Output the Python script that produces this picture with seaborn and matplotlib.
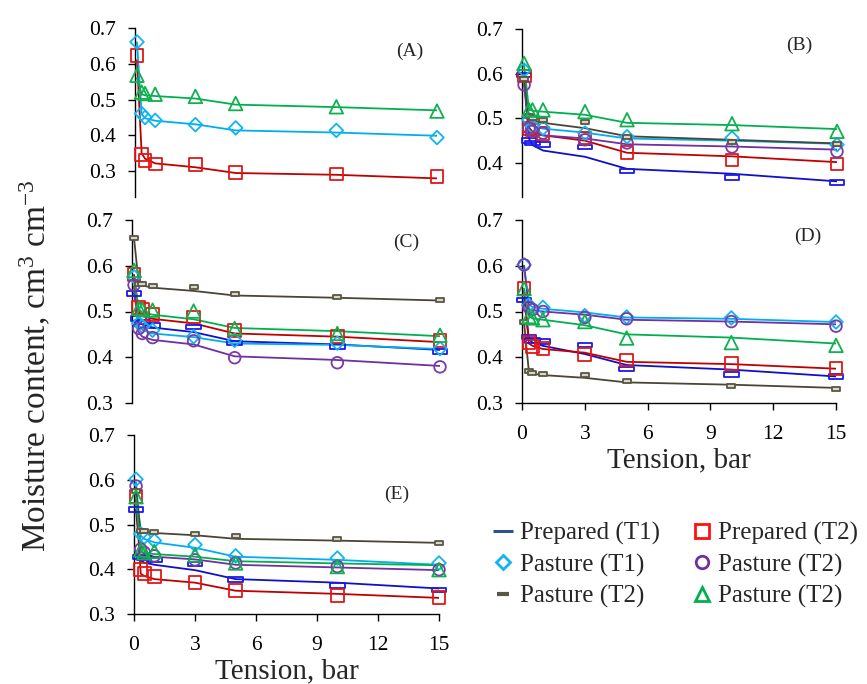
import numpy as np
import pandas as pd
import matplotlib
matplotlib.use("Agg")
import matplotlib.pyplot as plt
from matplotlib.path import Path
from matplotlib.lines import Line2D
import seaborn as sns

# ---------------- data ----------------
tension = [0.1, 0.33, 0.5, 1, 3, 5, 10, 15]

series_names = ["Prepared (T1)", "Prepared (T2)", "Pasture (T1)",
                "Pasture (T2) o", "Pasture (T2) -", "Pasture (T2) ^"]

# measured points (markers) and smoothed curve values (lines), per panel
A_pts = {
    "Prepared (T2)": [0.624, 0.347, 0.329, 0.320, 0.318, 0.296, 0.292, 0.286],
    "Pasture (T1)": [0.661, 0.461, 0.450, 0.442, 0.430, 0.421, 0.414, 0.394],
    "Pasture (T2) ^": [0.568, 0.521, 0.517, 0.515, 0.509, 0.489, 0.480, 0.468],
}
A_line = {
    "Prepared (T2)": [0.610, 0.350, 0.335, 0.322, 0.311, 0.295, 0.290, 0.280],
    "Pasture (T1)": [0.660, 0.460, 0.448, 0.441, 0.431, 0.414, 0.408, 0.399],
    "Pasture (T2) ^": [0.560, 0.515, 0.512, 0.510, 0.503, 0.486, 0.479, 0.470],
}
B_pts = {
    "Prepared (T1)": [0.597, 0.450, 0.445, 0.441, 0.436, 0.382, 0.367, 0.356],
    "Prepared (T2)": [0.595, 0.478, 0.474, 0.467, 0.456, 0.424, 0.407, 0.398],
    "Pasture (T1)": [0.608, 0.497, 0.482, 0.478, 0.467, 0.459, 0.456, 0.441],
    "Pasture (T2) o": [0.575, 0.478, 0.471, 0.467, 0.452, 0.445, 0.436, 0.426],
    "Pasture (T2) -": [0.588, 0.506, 0.500, 0.497, 0.491, 0.459, 0.448, 0.442],
    "Pasture (T2) ^": [0.623, 0.519, 0.519, 0.519, 0.515, 0.497, 0.488, 0.471],
}
B_line = {
    "Prepared (T1)": [0.595, 0.455, 0.440, 0.428, 0.414, 0.387, 0.376, 0.359],
    "Prepared (T2)": [0.590, 0.480, 0.470, 0.462, 0.450, 0.423, 0.415, 0.402],
    "Pasture (T1)": [0.600, 0.490, 0.483, 0.477, 0.468, 0.455, 0.450, 0.443],
    "Pasture (T2) o": [0.575, 0.470, 0.466, 0.462, 0.455, 0.442, 0.437, 0.430],
    "Pasture (T2) -": [0.590, 0.500, 0.495, 0.490, 0.478, 0.460, 0.452, 0.444],
    "Pasture (T2) ^": [0.620, 0.520, 0.517, 0.515, 0.508, 0.490, 0.485, 0.476],
}
C_pts = {
    "Prepared (T1)": [0.540, 0.485, 0.477, 0.470, 0.466, 0.431, 0.423, 0.413],
    "Prepared (T2)": [0.580, 0.509, 0.504, 0.494, 0.488, 0.459, 0.446, 0.436],
    "Pasture (T1)": [0.576, 0.474, 0.468, 0.459, 0.445, 0.437, 0.431, 0.419],
    "Pasture (T2) o": [0.558, 0.463, 0.452, 0.443, 0.436, 0.399, 0.388, 0.379],
    "Pasture (T2) -": [0.661, 0.561, 0.560, 0.556, 0.553, 0.539, 0.531, 0.525],
    "Pasture (T2) ^": [0.590, 0.507, 0.504, 0.503, 0.501, 0.463, 0.452, 0.448],
}
C_line = {
    "Prepared (T1)": [0.540, 0.480, 0.472, 0.465, 0.455, 0.435, 0.428, 0.416],
    "Prepared (T2)": [0.580, 0.500, 0.490, 0.484, 0.474, 0.452, 0.445, 0.433],
    "Pasture (T1)": [0.570, 0.470, 0.460, 0.452, 0.444, 0.430, 0.427, 0.418],
    "Pasture (T2) o": [0.555, 0.455, 0.445, 0.438, 0.428, 0.402, 0.394, 0.381],
    "Pasture (T2) -": [0.660, 0.560, 0.557, 0.552, 0.545, 0.535, 0.530, 0.524],
    "Pasture (T2) ^": [0.570, 0.505, 0.498, 0.493, 0.483, 0.464, 0.457, 0.446],
}
D_pts = {
    "Prepared (T1)": [0.525, 0.444, 0.437, 0.434, 0.427, 0.374, 0.363, 0.358],
    "Prepared (T2)": [0.550, 0.432, 0.424, 0.419, 0.406, 0.394, 0.386, 0.376],
    "Pasture (T1)": [0.602, 0.514, 0.506, 0.509, 0.491, 0.488, 0.486, 0.477],
    "Pasture (T2) o": [0.602, 0.509, 0.504, 0.500, 0.487, 0.484, 0.478, 0.468],
    "Pasture (T2) -": [0.477, 0.369, 0.365, 0.363, 0.361, 0.347, 0.338, 0.331],
    "Pasture (T2) ^": [0.550, 0.489, 0.486, 0.482, 0.478, 0.442, 0.432, 0.426],
}
D_line = {
    "Prepared (T1)": [0.530, 0.440, 0.432, 0.425, 0.407, 0.383, 0.373, 0.358],
    "Prepared (T2)": [0.545, 0.430, 0.425, 0.418, 0.410, 0.390, 0.385, 0.375],
    "Pasture (T1)": [0.600, 0.515, 0.510, 0.506, 0.498, 0.487, 0.484, 0.477],
    "Pasture (T2) o": [0.600, 0.505, 0.503, 0.500, 0.493, 0.482, 0.478, 0.472],
    "Pasture (T2) -": [0.475, 0.368, 0.364, 0.361, 0.355, 0.345, 0.340, 0.333],
    "Pasture (T2) ^": [0.550, 0.490, 0.485, 0.482, 0.470, 0.450, 0.443, 0.430],
}
E_pts = {
    "Prepared (T1)": [0.533, 0.427, 0.425, 0.421, 0.412, 0.377, 0.363, 0.354],
    "Prepared (T2)": [0.562, 0.399, 0.390, 0.384, 0.371, 0.353, 0.342, 0.337],
    "Pasture (T1)": [0.601, 0.479, 0.472, 0.464, 0.455, 0.430, 0.425, 0.414],
    "Pasture (T2) o": [0.586, 0.445, 0.438, 0.430, 0.421, 0.414, 0.406, 0.399],
    "Pasture (T2) -": [0.575, 0.486, 0.486, 0.483, 0.479, 0.475, 0.468, 0.458],
    "Pasture (T2) ^": [0.562, 0.443, 0.437, 0.440, 0.432, 0.414, 0.406, 0.399],
}
E_line = {
    "Prepared (T1)": [0.533, 0.420, 0.415, 0.410, 0.398, 0.378, 0.370, 0.357],
    "Prepared (T2)": [0.555, 0.390, 0.385, 0.378, 0.370, 0.352, 0.345, 0.336],
    "Pasture (T1)": [0.595, 0.475, 0.468, 0.460, 0.448, 0.428, 0.421, 0.410],
    "Pasture (T2) o": [0.585, 0.440, 0.435, 0.428, 0.422, 0.410, 0.404, 0.398],
    "Pasture (T2) -": [0.570, 0.485, 0.483, 0.481, 0.476, 0.468, 0.464, 0.459],
    "Pasture (T2) ^": [0.560, 0.440, 0.437, 0.434, 0.428, 0.418, 0.413, 0.409],
}

panel_labels = ["(A)", "(B)", "(C)", "(D)", "(E)"]
x_ticks = [0, 3, 6, 9, 12, 15]
legend_labels = ["Prepared (T1)", "Pasture (T1)", "Pasture (T2)",
                 "Prepared (T2)", "Pasture (T2)", "Pasture (T2)"]

# ---------------- style ----------------
sns.set_style("ticks")
plt.rcParams["font.family"] = ["Liberation Serif", "DejaVu Serif"]
plt.rcParams["mathtext.fontset"] = "custom"
plt.rcParams["mathtext.rm"] = "Liberation Serif"
plt.rcParams["mathtext.it"] = "Liberation Serif:italic"

rect_wide = Path([(-1, -0.32), (1, -0.32), (1, 0.32), (-1, 0.32), (-1, -0.32)],
                 [Path.MOVETO, Path.LINETO, Path.LINETO, Path.LINETO, Path.CLOSEPOLY])
rect_small = Path([(-1, -0.45), (1, -0.45), (1, 0.45), (-1, 0.45), (-1, -0.45)],
                  [Path.MOVETO, Path.LINETO, Path.LINETO, Path.LINETO, Path.CLOSEPOLY])

style = {
    "Prepared (T1)": dict(line="#1010C8", edge="#1A1AE6", face="none", marker=rect_wide, s=110),
    "Prepared (T2)": dict(line="#C00000", edge="#E01818", face="none", marker="s", s=85),
    "Pasture (T1)": dict(line="#00AEEF", edge="#10B4F0", face="none", marker="D", s=48),
    "Pasture (T2) o": dict(line="#7030A0", edge="#7A3AA8", face="none", marker="o", s=70),
    "Pasture (T2) -": dict(line="#4A4535", edge="#5A5545", face="#DAD6C6", marker=rect_small, s=40),
    "Pasture (T2) ^": dict(line="#00B050", edge="#10B050", face="none", marker="^", s=95),
}

fig = plt.figure(figsize=(8.67, 6.84), dpi=100)

W, H = 867.0, 684.0
def box(x0, x1, y0, y1):
    return [x0 / W, 1 - y1 / H, (x1 - x0) / W, (y1 - y0) / H]

panels = [
    (A_pts, A_line, box(135, 437, 28, 197), (0.228, 0.7), [0.3, 0.4, 0.5, 0.6, 0.7], False, (0.91, 0.86)),
    (B_pts, B_line, box(522, 837, 29, 197), (0.324, 0.7), [0.4, 0.5, 0.6, 0.7], False, (0.88, 0.9)),
    (C_pts, C_line, box(132, 440, 220, 403), (0.3, 0.7), [0.3, 0.4, 0.5, 0.6, 0.7], False, (0.89, 0.88)),
    (D_pts, D_line, box(522, 836, 220, 403), (0.3, 0.7), [0.3, 0.4, 0.5, 0.6, 0.7], True, (0.91, 0.91)),
    (E_pts, E_line, box(134, 439, 435, 614), (0.3, 0.7), [0.3, 0.4, 0.5, 0.6, 0.7], True, (0.86, 0.67)),
]

for (pts, lines, rect, ylim, yticks, show_x, lab_xy), lab in zip(panels, panel_labels):
    ax = fig.add_axes(rect)
    for name in series_names:
        if name not in pts:
            continue
        st = style[name]
        df = pd.DataFrame({"tension": tension, "line": lines[name], "pts": pts[name]})
        sns.lineplot(data=df, x="tension", y="line", color=st["line"], lw=1.3,
                     sort=False, estimator=None, ax=ax, zorder=2)
        sns.scatterplot(data=df, x="tension", y="pts", marker=st["marker"], s=st["s"],
                        facecolor=st["face"], edgecolor=st["edge"], linewidth=1.3,
                        ax=ax, zorder=3, clip_on=False)
    ax.set_xlim(0, 15)
    ax.set_ylim(*ylim)
    ax.set_yticks(yticks)
    ax.set_yticklabels([f"{v:.1f}" for v in yticks], fontsize=15.5)
    ax.set_xlabel("")
    ax.set_ylabel("")
    for sp in ["top", "right"]:
        ax.spines[sp].set_visible(False)
    ax.spines["left"].set_linewidth(1.0)
    ax.spines["left"].set_color("black")
    ax.tick_params(axis="y", direction="out", length=5, width=1, pad=9, colors="black")
    if show_x:
        ax.set_xticks(x_ticks)
        ax.set_xticklabels([str(v) for v in x_ticks], fontsize=15.5)
        ax.tick_params(axis="x", direction="out", length=5, width=1, pad=11, colors="black")
        ax.spines["bottom"].set_linewidth(1.0)
        ax.spines["bottom"].set_color("black")
        ax.set_xlabel("Tension, bar", fontsize=21, labelpad=2)
    else:
        ax.spines["bottom"].set_visible(False)
        ax.set_xticks([])
    ax.text(lab_xy[0], lab_xy[1], lab, transform=ax.transAxes, fontsize=14,
            ha="center", va="center")

fig.text(0.041, 0.465, r"Moisture content, cm$^{3}$ cm$^{-3}$", rotation=90,
         fontsize=24, ha="center", va="center")

# legend
handles = [
    Line2D([], [], ls="none", marker="_", markersize=15, mew=2.2, color="#2F4F8F"),
    Line2D([], [], ls="none", marker="D", markersize=7, mfc="none", mew=2, mec="#10B4F0"),
    Line2D([], [], ls="none", marker="_", markersize=8, mew=3, color="#5A5545"),
    Line2D([], [], ls="none", marker="s", markersize=10, mfc="none", mew=2, mec="#FF1010"),
    Line2D([], [], ls="none", marker="o", markersize=9, mfc="none", mew=2, mec="#7030A0"),
    Line2D([], [], ls="none", marker="^", markersize=10, mfc="none", mew=2, mec="#00B050"),
]
fig.legend(handles, legend_labels, ncol=2, frameon=False, fontsize=18,
           loc="center", bbox_to_anchor=(0.778, 0.174), handlelength=1.0,
           handletextpad=0.15, columnspacing=1.2, labelspacing=0.35)

fig.savefig("out.png", dpi=100)
